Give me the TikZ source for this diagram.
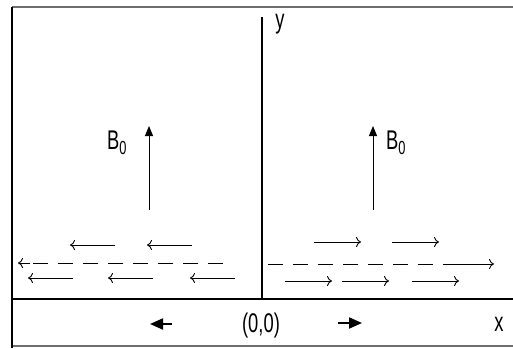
\documentclass[tikz,border=0pt]{standalone}
\usepackage{fontspec}
\newfontfamily\labelfont[FakeStretch=0.68]{Liberation Sans}
\usepackage{tikz}
\usetikzlibrary{arrows.meta}
\definecolor{framegray}{RGB}{110,110,110}
\tikzstyle{axis} = [line width=1.3pt]
\tikzstyle{border} = [line width=1.6pt, framegray]
\tikzstyle{spin} = [-{To[length=5pt,width=10pt]}, line width=0.9pt]
\tikzstyle{field} = [-{Triangle[length=10pt,width=8pt]}, line width=0.9pt]
\tikzstyle{motion} = [-{Triangle[length=13pt,width=11pt]}, line width=2pt]
\tikzstyle{lbl} = [font=\labelfont\fontsize{27}{29}\selectfont, inner sep=0pt]

\begin{document}
\begin{tikzpicture}[x=1pt,y=-1pt]
    \useasboundingbox (0,0) rectangle (513,348);

    % Frame
    \coordinate (tl) at (12,7);
    \coordinate (tr) at (513,7);
    \coordinate (bl) at (12,348);
    \coordinate (bbl) at (12,346);
    \coordinate (bbr) at (513,346);
    \draw[border] (tl) -- (tr);
    \draw[border] (bbl) -- (bbr);
    \draw[line width=1.3pt] (tl) -- (bl);

    % Axes
    \coordinate (xl) at (12,299);
    \coordinate (xr) at (513,299);
    \coordinate (yb) at (262,299);
    \coordinate (yt) at (262,17);
    \draw[axis] (xl) -- (xr);
    \draw[axis] (yb) -- (yt);
    \node[lbl] (ylab) at (280,24) {y};
    \node[lbl] (xlab) at (499,324) {x};
    \node[lbl] (origin) at (261,326) {(0,0)};

    % Field B0
    \foreach \i/\xx in {1/149,2/373} {
        \coordinate (b\i s) at (\xx,210);
        \coordinate (b\i e) at (\xx,126);
        \draw[field] (b\i s) -- (b\i e);
    }
    \node[lbl] (blab1) at (117,143) {B\textsubscript{0}};
    \node[lbl] (blab2) at (396,143) {B\textsubscript{0}};

    % Spin arrows
    \foreach \i/\xa/\xb/\yy in {1/115/70/245,2/192/147/245,3/73/28/278,4/153/108/278,5/235/190/278,
                                6/314/361/242,7/392/439/242,8/285/332/281,9/342/389/281,10/412/459/281} {
        \coordinate (s\i a) at (\xa,\yy);
        \coordinate (s\i b) at (\xb,\yy);
        \draw[spin] (s\i a) -- (s\i b);
    }

    % Dashed lines
    \coordinate (dl1) at (223,263);
    \coordinate (dl2) at (30,263);
    \coordinate (dl3) at (18,263);
    \draw[line width=0.9pt, dash pattern=on 15pt off 10pt] (dl1) -- (dl2);
    \draw[spin] (dl2) -- (dl3);
    \coordinate (dr1) at (268,264);
    \coordinate (dr2) at (455,264);
    \coordinate (dr3) at (494,264);
    \draw[line width=0.9pt, dash pattern=on 15pt off 10pt] (dr1) -- (dr2);
    \draw[spin] (dr2) -- (dr3);

    % Motion
    \coordinate (ml1) at (172,324);
    \coordinate (ml2) at (150,324);
    \coordinate (mr1) at (338,323);
    \coordinate (mr2) at (362,323);
    \draw[motion] (ml1) -- (ml2);
    \draw[motion] (mr1) -- (mr2);
\end{tikzpicture}
\end{document}
